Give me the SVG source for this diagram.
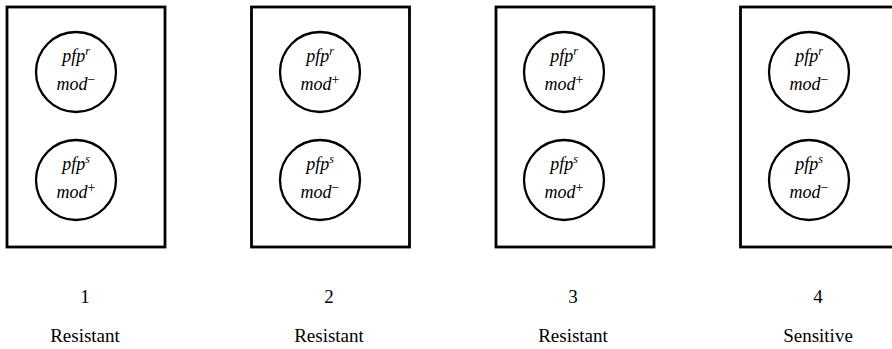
<svg xmlns="http://www.w3.org/2000/svg" width="892" height="349" viewBox="0 0 892 349">
<style>
.box{fill:#fff;stroke:#000;stroke-width:2.8}
.cell{fill:#fff;stroke:#000;stroke-width:2.3}
.g{font-family:"Liberation Serif","Times New Roman",serif;font-style:italic;font-size:18px;text-anchor:middle;fill:#000}
.sup{font-size:12px}
.pm{font-size:14px;font-style:normal}
.lab{font-family:"Liberation Serif","Times New Roman",serif;font-size:19px;text-anchor:middle;fill:#000}
</style>
<rect width="892" height="349" fill="#fff"/>
<g id="strain1">
<rect class="box" x="7" y="7" width="158" height="240"/>
<circle class="cell" cx="76" cy="72" r="40"/>
<text class="g" x="76" y="62">pfp<tspan class="sup" dy="-7">r</tspan></text>
<text class="g" x="76" y="90">mod<tspan class="pm" dy="-6">−</tspan></text>
<circle class="cell" cx="76" cy="180" r="40"/>
<text class="g" x="76" y="170">pfp<tspan class="sup" dy="-7">s</tspan></text>
<text class="g" x="76" y="198">mod<tspan class="pm" dy="-6">+</tspan></text>
<text class="lab" x="85" y="303">1</text>
<text class="lab" x="85" y="342">Resistant</text>
</g>
<g id="strain2">
<rect class="box" x="251.5" y="7" width="158" height="240"/>
<circle class="cell" cx="320" cy="72" r="40"/>
<text class="g" x="320" y="62">pfp<tspan class="sup" dy="-7">r</tspan></text>
<text class="g" x="320" y="90">mod<tspan class="pm" dy="-6">+</tspan></text>
<circle class="cell" cx="320" cy="180" r="40"/>
<text class="g" x="320" y="170">pfp<tspan class="sup" dy="-7">s</tspan></text>
<text class="g" x="320" y="198">mod<tspan class="pm" dy="-6">−</tspan></text>
<text class="lab" x="329" y="303">2</text>
<text class="lab" x="329" y="342">Resistant</text>
</g>
<g id="strain3">
<rect class="box" x="496" y="7" width="158" height="240"/>
<circle class="cell" cx="564" cy="72" r="40"/>
<text class="g" x="564" y="62">pfp<tspan class="sup" dy="-7">r</tspan></text>
<text class="g" x="564" y="90">mod<tspan class="pm" dy="-6">+</tspan></text>
<circle class="cell" cx="564" cy="180" r="40"/>
<text class="g" x="564" y="170">pfp<tspan class="sup" dy="-7">s</tspan></text>
<text class="g" x="564" y="198">mod<tspan class="pm" dy="-6">+</tspan></text>
<text class="lab" x="573" y="303">3</text>
<text class="lab" x="573" y="342">Resistant</text>
</g>
<g id="strain4">
<rect class="box" x="740.5" y="7" width="158" height="240"/>
<circle class="cell" cx="809" cy="72" r="40"/>
<text class="g" x="809" y="62">pfp<tspan class="sup" dy="-7">r</tspan></text>
<text class="g" x="809" y="90">mod<tspan class="pm" dy="-6">−</tspan></text>
<circle class="cell" cx="809" cy="180" r="40"/>
<text class="g" x="809" y="170">pfp<tspan class="sup" dy="-7">s</tspan></text>
<text class="g" x="809" y="198">mod<tspan class="pm" dy="-6">−</tspan></text>
<text class="lab" x="818" y="303">4</text>
<text class="lab" x="818" y="342">Sensitive</text>
</g>
<g id="connectors"/>
</svg>
